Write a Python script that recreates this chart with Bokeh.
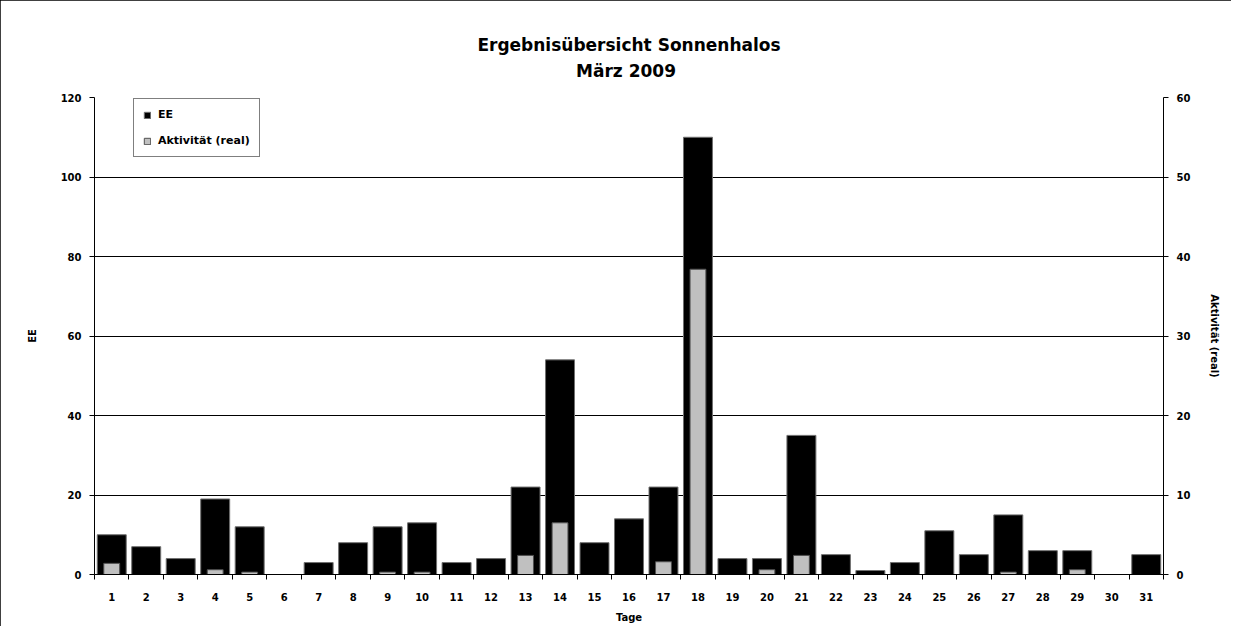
from bokeh.plotting import figure
from bokeh.models import (ColumnDataSource, Range1d, LinearAxis, FixedTicker,
                          Legend, LegendItem, Title)
from bokeh.embed import file_html
from bokeh.resources import INLINE

days = list(range(1, 32))
day_labels = [str(d) for d in days]
ee = [10, 7, 4, 19, 12, 0, 3, 8, 12, 13, 3, 4, 22, 54, 8, 14, 22, 110, 4, 4,
      35, 5, 1, 3, 11, 5, 15, 6, 6, 0, 5]
aktivitaet = [1.4, 0, 0, 0.6, 0.3, 0, 0, 0, 0.3, 0.3, 0, 0, 2.4, 6.5, 0, 0, 1.6,
              38.4, 0, 0.6, 2.4, 0, 0, 0, 0, 0, 0.3, 0, 0.6, 0, 0]
left_ticks = [0, 20, 40, 60, 80, 100, 120]
right_ticks = [0, 10, 20, 30, 40, 50, 60]

src = ColumnDataSource(dict(day=days, ee=ee, akt=aktivitaet))

FONT = "DejaVu Sans"
FS = "10px"
W, H = 1231, 626

p = figure(width=W, height=H, output_backend="svg", toolbar_location=None,
           x_range=Range1d(0.5, 31.5), y_range=Range1d(0, 120),
           min_border_left=94, min_border_right=68, min_border_top=97,
           min_border_bottom=52, background_fill_color="white",
           border_fill_color="white", outline_line_color=None)
p.styles = {"outline": "2px solid black", "outline-offset": "-2px"}
p.extra_y_ranges = {"akt": Range1d(0, 60)}

spacer = Title(text=" ", text_font_size="10px", standoff=0)
sub = Title(text="März  2009", align="center", text_font=FONT, text_color="black",
            text_font_size="17px", text_font_style="bold", standoff=8)
main = Title(text="Ergebnisübersicht Sonnenhalos", align="center", text_color="black",
             text_font=FONT, text_font_size="17px", text_font_style="bold",
             standoff=0)
p.add_layout(spacer, "above")
p.add_layout(sub, "above")
p.add_layout(main, "above")

r_ee = p.vbar(x="day", top="ee", width=0.84, source=src, fill_color="black",
              line_color="#707070", line_width=1)
r_akt = p.vbar(x="day", top="akt", width=0.46, source=src, y_range_name="akt",
               fill_color="#c0c0c0", line_color="#505050", line_width=1)


def style_axis(ax):
    ax.axis_label_text_font = FONT
    ax.axis_label_text_font_size = FS
    ax.axis_label_text_font_style = "bold"
    ax.axis_label_text_color = "black"
    ax.major_label_text_font = FONT
    ax.major_label_text_font_size = FS
    ax.major_label_text_font_style = "bold"
    ax.major_label_text_color = "black"
    ax.axis_line_color = "black"
    ax.major_tick_line_color = "black"


# x axis
xa = p.xaxis[0]
style_axis(xa)
xa.ticker = FixedTicker(ticks=days, minor_ticks=[d - 0.5 for d in days] + [31.5])
xa.major_label_overrides = {d: s for d, s in zip(days, day_labels)}
xa.major_tick_line_color = None
xa.minor_tick_line_color = "black"
xa.minor_tick_in = 0
xa.minor_tick_out = 5
xa.axis_label = "Tage"
xa.axis_label_standoff = 8
xa.major_label_standoff = 12

# left axis
ya = p.yaxis[0]
style_axis(ya)
ya.ticker = FixedTicker(ticks=left_ticks, minor_ticks=[])
ya.axis_label = "EE"
ya.axis_label_standoff = 20
ya.major_label_standoff = 8
ya.major_tick_in = 0
ya.major_tick_out = 5
ya.minor_tick_line_color = None

# right axis
ra = LinearAxis(y_range_name="akt", ticker=FixedTicker(ticks=right_ticks, minor_ticks=[]),
                axis_label="Aktivität (real)")
style_axis(ra)
ra.axis_label_standoff = 16
ra.major_label_standoff = 8
ra.major_tick_in = 0
ra.major_tick_out = 5
ra.minor_tick_line_color = None
p.add_layout(ra, "right")

p.xgrid.visible = False
p.ygrid.ticker = FixedTicker(ticks=[20, 40, 60, 80, 100])
p.ygrid.grid_line_color = "black"
p.ygrid.grid_line_width = 1

legend = Legend(items=[LegendItem(label="EE", renderers=[r_ee]),
                       LegendItem(label="Aktivität (real)", renderers=[r_akt])],
                location=(39, 417), orientation="vertical",
                label_text_font=FONT, label_text_font_size="11px",
                label_text_font_style="bold", label_text_color="black",
                glyph_width=8, glyph_height=8,
                label_standoff=7, padding=9, spacing=13, margin=0,
                label_height=11,
                border_line_color="black", border_line_width=1,
                background_fill_color="white", background_fill_alpha=1)
p.add_layout(legend, "center")

open("out.html", "w").write(file_html(p, INLINE))
